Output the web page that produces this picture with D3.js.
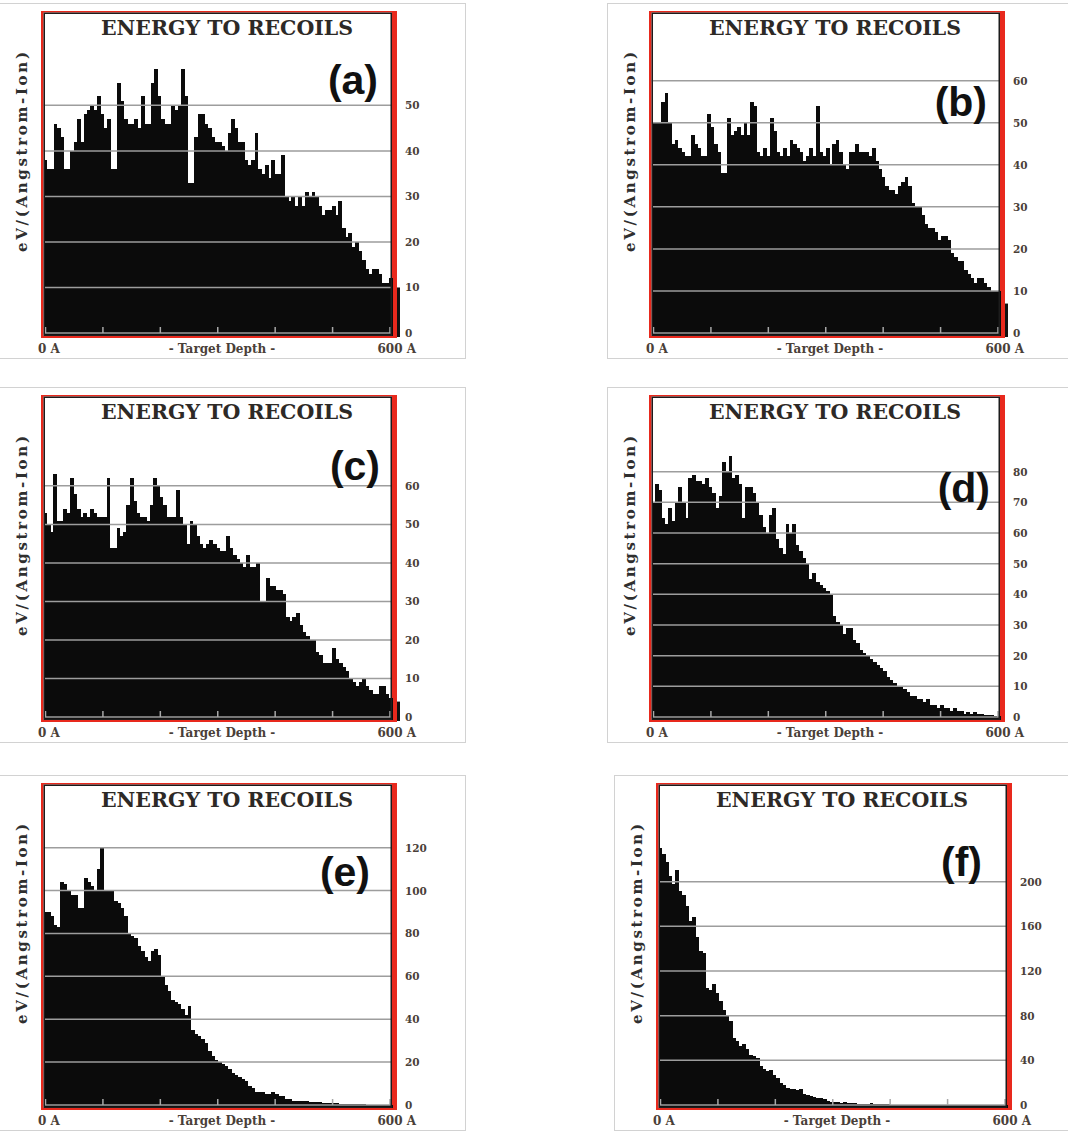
<!DOCTYPE html>
<html>
<head>
<meta charset="utf-8">
<script src="https://cdn.jsdelivr.net/npm/d3@7"></script>
<style>
  body { margin: 0; background: #fff; }
  svg text { font-family: "DejaVu Serif", "Liberation Serif", serif; }
</style>
</head>
<body>
<svg id="chart" width="1068" height="1131"></svg>
<script>
// energy to recoils per depth bin (eV/(Angstrom-Ion))
const valuesA = [38, 36, 36, 46, 45, 43, 36, 36, 40, 42,
  47, 42, 48, 49, 50, 49, 52, 48, 45, 47,
  36, 36, 55, 51, 47, 46, 46, 47, 45, 52,
  46, 46, 55, 58, 52, 47, 46, 46, 50, 49,
  50, 58, 52, 33, 33, 43, 48, 48, 46, 45,
  43, 42, 42, 41, 40, 44, 47, 45, 42, 42,
  38, 37, 38, 44, 36, 35, 37, 34, 38, 35,
  35, 39, 30, 29, 30, 28, 30, 28, 31, 30,
  31, 30, 28, 26, 27, 27, 28, 26, 29, 23,
  21, 22, 19, 20, 18, 16, 14, 13, 14, 14,
  13, 11, 11, 12];
const valuesB = [50, 50, 50, 55, 57, 50, 45, 46, 44, 43,
  42, 42, 47, 45, 44, 42, 42, 52, 49, 45,
  43, 38, 38, 51, 47, 48, 49, 47, 50, 47,
  55, 54, 43, 42, 44, 42, 51, 48, 43, 42,
  44, 42, 46, 45, 44, 43, 41, 42, 44, 42,
  54, 43, 42, 44, 40, 45, 46, 43, 40, 39,
  43, 43, 45, 43, 43, 43, 42, 44, 41, 39,
  37, 35, 34, 34, 33, 35, 36, 37, 35, 31,
  30, 30, 28, 26, 25, 25, 24, 22, 23, 23,
  22, 19, 18, 17, 17, 15, 14, 13, 12, 13,
  13, 12, 11, 10, 10, 10];
const valuesC = [53, 50, 48, 63, 51, 51, 54, 53, 62, 58,
  54, 52, 53, 52, 54, 53, 52, 52, 52, 62,
  44, 44, 49, 47, 48, 55, 62, 56, 53, 52,
  52, 51, 55, 62, 60, 57, 55, 52, 52, 52,
  59, 52, 50, 45, 51, 50, 47, 45, 44, 45,
  46, 45, 44, 43, 43, 47, 44, 42, 41, 40,
  39, 42, 39, 39, 40, 30, 30, 36, 34, 34,
  33, 33, 32, 26, 25, 26, 27, 24, 22, 21,
  20, 20, 17, 16, 14, 14, 14, 18, 15, 14,
  13, 12, 10, 9, 8, 9, 10, 8, 7, 6,
  6, 8, 8, 6, 5];
const valuesD = [70, 76, 74, 65, 63, 68, 64, 70, 75, 70,
  65, 78, 79, 77, 77, 76, 78, 75, 73, 68,
  72, 83, 80, 85, 78, 79, 76, 65, 75, 75,
  73, 70, 66, 62, 60, 66, 68, 58, 55, 53,
  63, 60, 63, 56, 54, 52, 50, 45, 47, 44,
  43, 42, 41, 40, 33, 31, 30, 27, 29, 29,
  25, 24, 22, 21, 20, 19, 18, 17, 16, 15,
  13, 12, 11, 10, 10, 9, 8, 7, 7, 6,
  6, 5, 6, 4, 4, 3, 4, 3, 3, 2,
  3, 2, 2, 1, 1.5, 1, 1.5, 1, 1, 0.7,
  0.5, 0.5, 0.4, 0.3];
const valuesE = [90, 90, 88, 84, 83, 104, 103, 100, 98, 98,
  92, 92, 106, 104, 102, 100, 110, 120, 100, 100,
  100, 95, 94, 92, 88, 80, 79, 78, 74, 72,
  69, 67, 72, 73, 70, 60, 56, 53, 49, 48,
  47, 45, 42, 46, 35, 33, 32, 31, 29, 25,
  23, 21, 20, 19, 18, 17, 15, 14, 13, 12,
  11, 9, 8, 6, 6, 6, 5, 5, 6, 5,
  4, 4, 3, 3, 2, 2, 2, 2, 2, 1.5,
  1.5, 1.5, 1.2, 1, 1, 1, 0.8, 0.8, 0.6, 0.6,
  0.5, 0.5, 0.4, 0.4, 0.3, 0.5, 0.2, 0.2, 0.2, 0.1,
  0.1, 0.1, 0.1, 0.1];
const valuesF = [230, 225, 218, 205, 198, 210, 192, 188, 178, 165,
  168, 150, 138, 136, 105, 103, 108, 100, 93, 85,
  80, 75, 60, 57, 53, 55, 50, 45, 44, 42,
  35, 32, 30, 31, 27, 24, 20, 18, 15, 14,
  14, 13, 14, 10, 9, 8, 7, 6, 6, 5,
  4, 3, 3, 2.5, 2, 3, 2, 1.5, 1.5, 1,
  1, 1, 1, 1.5, 0.8, 0.7, 0.6, 0.5, 0.5, 0.4,
  0.4, 0.3, 0.3, 0.3, 0.2, 0.2, 0.2, 0.2, 0.1, 0.1,
  0.1, 0.1, 0.1, 0.1, 0.1, 0, 0, 0, 0, 0,
  0, 0, 0, 0, 0, 0, 0, 0, 0, 0,
  0, 0, 0, 0];

// y tick labels per panel
const ticksA = [0, 10, 20, 30, 40, 50];
const ticksB = [0, 10, 20, 30, 40, 50, 60];
const ticksC = [0, 10, 20, 30, 40, 50, 60];
const ticksD = [0, 10, 20, 30, 40, 50, 60, 70, 80];
const ticksE = [0, 20, 40, 60, 80, 100, 120];
const ticksF = [0, 40, 80, 120, 160, 200];

// top of each y axis, and the small bar drawn past the right edge
const yMaxes = [70.4, 76.2, 83.2, 104.5, 149.5, 287];
const edgeValues = [10, 7, 4, 0, 0, 0];

const panelLabels = ['(a)', '(b)', '(c)', '(d)', '(e)', '(f)'];
const titleText = 'ENERGY TO RECOILS';
const yTitle = 'eV/(Angstrom-Ion)';
const xLabels = ['0 A', '- Target Depth -', '600 A'];

// where each panel sits (top-left of red frame) and where its letter goes
const layout = [
  {x: 41,  y: 11,  labelX: 337, labelY: 83},
  {x: 649, y: 11,  labelX: 338, labelY: 105},
  {x: 41,  y: 395, labelX: 339, labelY: 85},
  {x: 649, y: 395, labelX: 341, labelY: 107},
  {x: 41,  y: 783, labelX: 329, labelY: 103},
  {x: 656, y: 783, labelX: 326, labelY: 93}
];

const allValues = [valuesA, valuesB, valuesC, valuesD, valuesE, valuesF];
const allTicks = [ticksA, ticksB, ticksC, ticksD, ticksE, ticksF];

const svg = d3.select('#chart');

const frameW = 356, frameH = 327;
const inner = {left: 2.5, right: 351, top: 1.5, bottom: 325};
const zeroY = 322;

function drawPanel(i) {
  const cfg = layout[i];
  const values = allValues[i];
  const g = svg.append('g').attr('transform', `translate(${cfg.x},${cfg.y})`);

  // light outer box
  g.append('rect')
    .attr('x', -41.5).attr('y', -7.5)
    .attr('width', 466).attr('height', 355)
    .attr('fill', 'none').attr('stroke', '#d2d2d2').attr('stroke-width', 1);

  // red frame, white plot area
  g.append('rect')
    .attr('width', frameW).attr('height', frameH)
    .attr('fill', '#e8291d');
  g.append('rect')
    .attr('x', inner.left).attr('y', inner.top)
    .attr('width', inner.right - inner.left).attr('height', inner.bottom - inner.top)
    .attr('fill', '#fff');

  const x = d3.scaleLinear().domain([0, values.length]).range([inner.left, inner.right]);
  const y = d3.scaleLinear().domain([0, yMaxes[i]]).range([zeroY, inner.top]);

  // histogram bars
  g.append('g').selectAll('rect')
    .data(values)
    .join('rect')
    .attr('x', (d, k) => x(k))
    .attr('width', (d, k) => x(k + 1) - x(k) + 0.5)
    .attr('y', d => y(d))
    .attr('height', d => inner.bottom - y(d))
    .attr('fill', '#0b0b0b')
    .attr('shape-rendering', 'crispEdges');

  // grid lines (drawn over the bars)
  const ticks = allTicks[i];
  g.append('g').selectAll('line')
    .data(ticks)
    .join('line')
    .attr('x1', inner.left).attr('x2', inner.right)
    .attr('y1', d => y(d)).attr('y2', d => y(d))
    .attr('stroke', '#9d9d9d').attr('stroke-width', 1.5);

  // depth ticks along the bottom
  const depth = d3.scaleLinear().domain([0, 600]).range([inner.left + 2, inner.right - 2]);
  g.append('g').selectAll('line')
    .data(depth.ticks(6))
    .join('line')
    .attr('x1', d => depth(d)).attr('x2', d => depth(d))
    .attr('y1', zeroY).attr('y2', zeroY - 6)
    .attr('stroke', '#a8a8a8').attr('stroke-width', 1.5);

  // black inner frame
  g.append('rect')
    .attr('x', inner.left + 0.75).attr('y', inner.top + 0.75)
    .attr('width', inner.right - inner.left - 1.5).attr('height', inner.bottom - inner.top - 1.5)
    .attr('fill', 'none').attr('stroke', '#1c1c1c').attr('stroke-width', 1.5);

  // overflow bar on the right edge
  if (edgeValues[i] > 0) {
    g.append('rect')
      .attr('x', frameW).attr('width', 3)
      .attr('y', y(edgeValues[i]))
      .attr('height', inner.bottom + 1 - y(edgeValues[i]))
      .attr('fill', '#111');
  }

  // y tick labels on the right
  g.append('g').selectAll('text')
    .data(ticks)
    .join('text')
    .attr('x', 364)
    .attr('y', d => y(d) + 4)
    .attr('font-size', 10.5)
    .attr('font-weight', 'bold')
    .attr('fill', '#4a4038')
    .text(d => d);

  // title
  g.append('text')
    .attr('x', 186).attr('y', 24)
    .attr('text-anchor', 'middle')
    .attr('font-size', 20.5)
    .attr('font-weight', 'bold')
    .attr('fill', '#2d2926')
    .text(titleText);

  // panel letter
  g.append('text')
    .attr('x', cfg.labelX).attr('y', cfg.labelY)
    .attr('text-anchor', 'end')
    .attr('font-size', 41)
    .attr('font-weight', 'bold')
    .style('font-family', '"Liberation Sans", Arial, sans-serif')
    .attr('fill', '#111')
    .text(panelLabels[i]);

  // y axis title
  g.append('text')
    .attr('transform', 'translate(-14,141) rotate(-90)')
    .attr('text-anchor', 'middle')
    .attr('font-size', 15)
    .attr('font-weight', 'bold')
    .attr('textLength', 200)
    .attr('lengthAdjust', 'spacing')
    .attr('fill', '#2f2f2f')
    .text(yTitle);

  // depth labels
  const bottom = g.append('g')
    .attr('font-size', 12)
    .attr('font-weight', 'bold')
    .attr('fill', '#4a4038');
  bottom.append('text').attr('x', -3).attr('y', 342).text(xLabels[0]);
  bottom.append('text').attr('x', 181).attr('y', 342).attr('text-anchor', 'middle').text(xLabels[1]);
  bottom.append('text').attr('x', 375).attr('y', 342).attr('text-anchor', 'end').text(xLabels[2]);
}

layout.forEach((d, i) => drawPanel(i));
</script>
</body>
</html>
